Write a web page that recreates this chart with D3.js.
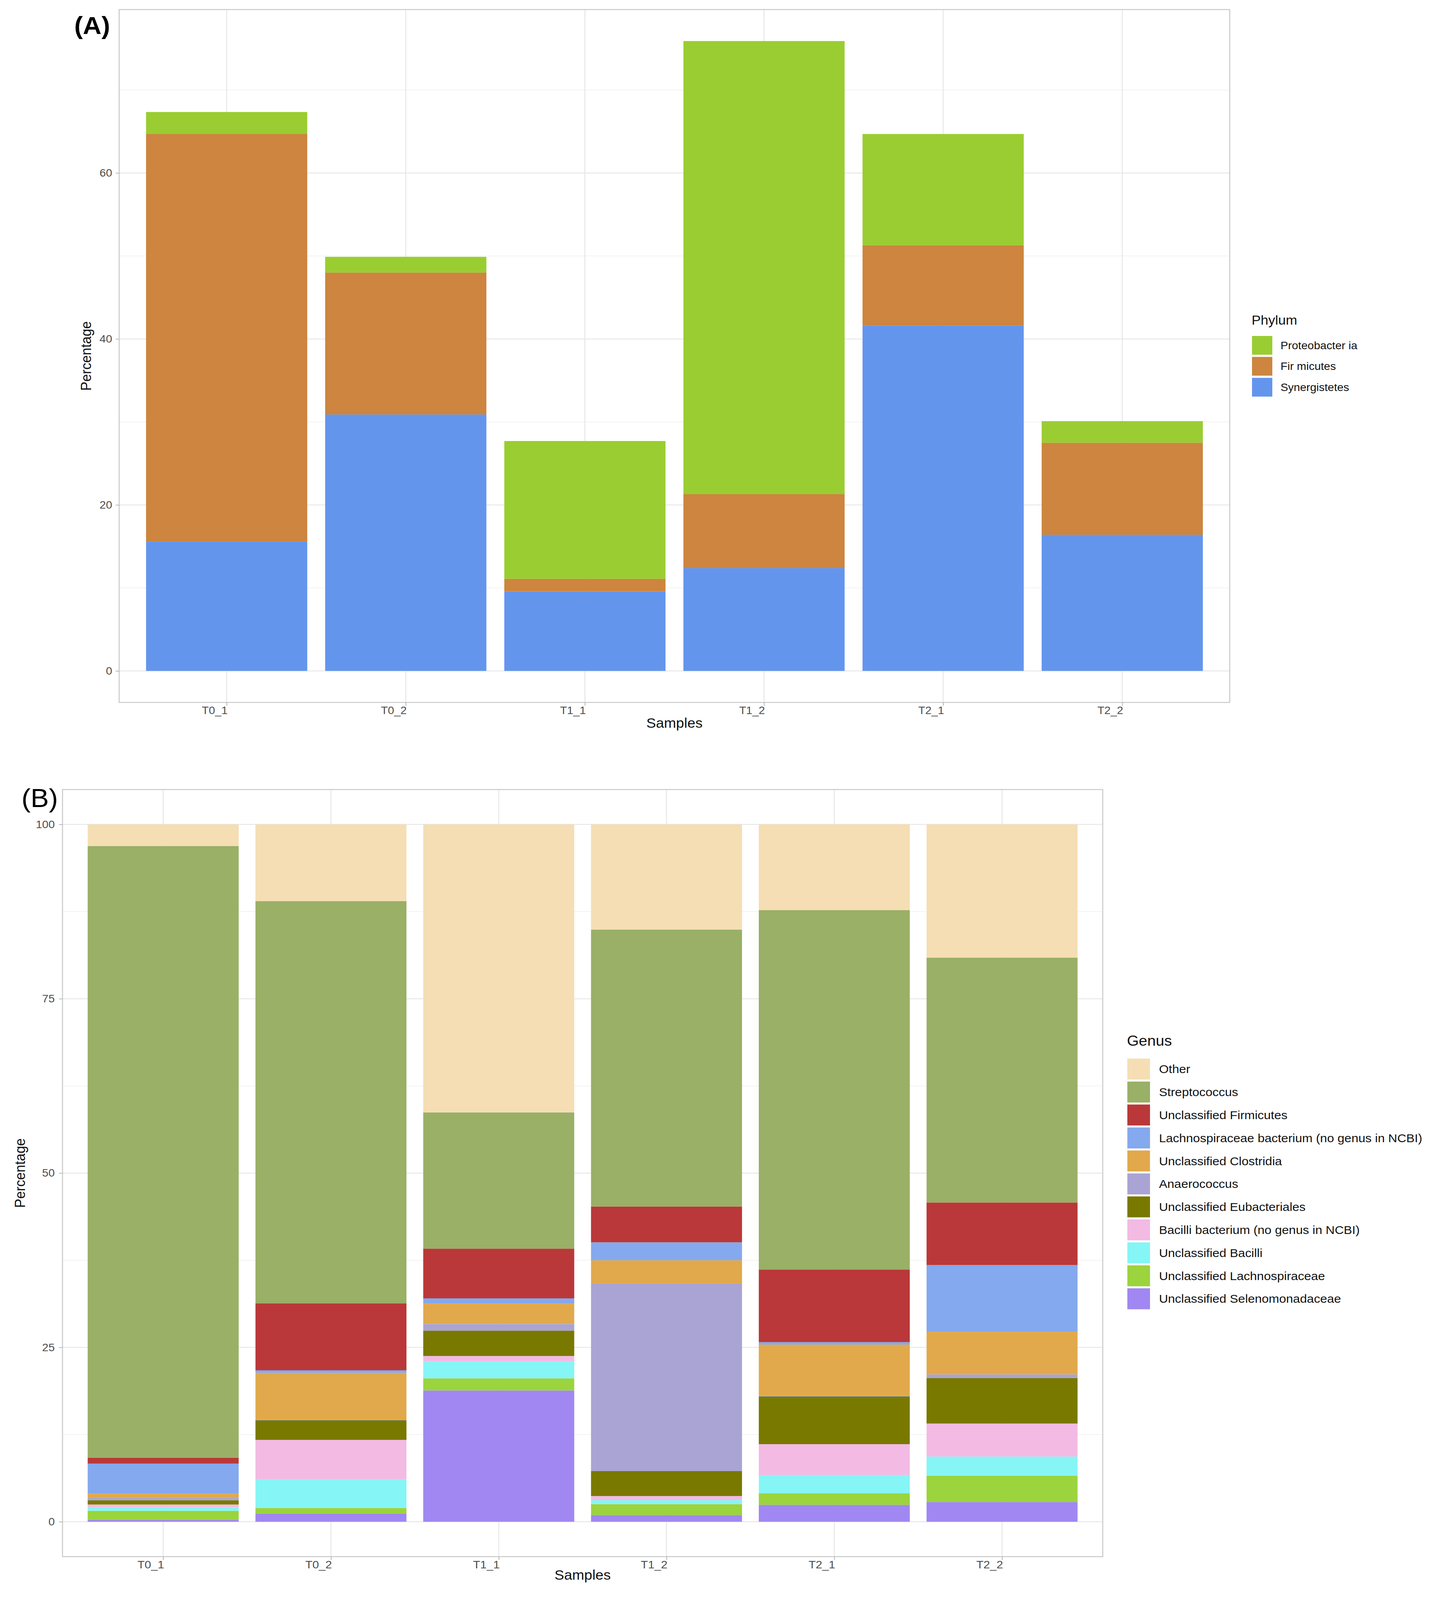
<!DOCTYPE html>
<html><head><meta charset="utf-8">
<script src="https://cdn.jsdelivr.net/npm/d3@7"></script>
<style>
html,body{margin:0;padding:0;background:#fff;overflow:hidden}
#chart{display:block;width:100vw;height:100vh}
text{font-family:"Liberation Sans",Arial,Helvetica,sans-serif}
</style>
</head><body>
<svg id="chart" viewBox="0 0 3680 4353" preserveAspectRatio="none"></svg>
<script>
// ---------- DATA ----------
const samples = ["T0_1","T0_2","T1_1","T1_2","T2_1","T2_2"];

// Panel A (phylum), stacked bottom -> top
const phylumKeys = ["Synergistetes","Fir micutes","Proteobacter ia"];
const phylumLegendOrder = ["Proteobacter ia","Fir micutes","Synergistetes"];
const synergistetes = [15.6, 30.9, 9.6, 12.4, 41.6, 16.4];
const firmicutesA   = [49.1, 17.1, 1.5, 8.9, 9.7, 11.1];
const proteobacteria= [2.65, 1.9, 16.6, 54.6, 13.4, 2.6];
const phylumColors = ["#6495ED","#CD853F","#9ACD32"];
const yTicksA = [0,20,40,60];
const yMinorA = [10,30,50,70];

// Panel B (genus), stacked bottom -> top
const genusKeys = ["Unclassified Selenomonadaceae","Unclassified Lachnospiraceae","Unclassified Bacilli",
  "Bacilli bacterium (no genus in NCBI)","Unclassified Eubacteriales","Anaerococcus","Unclassified Clostridia",
  "Lachnospiraceae bacterium (no genus in NCBI)","Unclassified Firmicutes","Streptococcus","Other"];
const selenomonadaceae = [0.27, 1.19, 18.83, 0.97, 2.43, 2.83];
const lachnospiraceae  = [1.30, 0.79, 1.73, 1.56, 1.64, 3.77];
const bacilli          = [0.51, 4.12, 2.46, 0.58, 2.64, 2.75];
const bacilliBact      = [0.39, 5.64, 0.75, 0.58, 4.42, 4.73];
const eubacteriales    = [0.61, 2.81, 3.64, 3.58, 6.84, 6.52];
const anaerococcus     = [0.33, 0.10, 0.95, 26.93, 0.10, 0.53];
const clostridia       = [0.62, 6.71, 2.92, 3.30, 7.34, 6.13];
const lachnoBact       = [4.31, 0.36, 0.75, 2.57, 0.35, 9.55];
const firmicutesB      = [0.84, 9.61, 7.14, 5.13, 10.40, 8.97];
const streptococcus    = [87.72, 57.67, 19.53, 39.70, 51.54, 35.12];
const other            = [3.10, 11.00, 41.30, 15.10, 12.30, 19.10];
const genusColors = ["#A187F2","#9BD43C","#86F5F5","#F3BAE4","#797900","#A9A4D4","#E1A94B","#84A9EE","#BA3839","#99B066","#F5DEB3"];
const yTicksB = [0,25,50,75,100];
const yMinorB = [12.5,37.5,62.5,87.5];

// ---------- DRAW ----------
const svg = d3.select("#chart");
svg.append("rect").attr("width",3680).attr("height",4353).attr("fill","#fff");

function drawPanel(o){
  const g = svg.append("g");
  const rows = samples.map((s,i)=>{const r={sample:s}; o.keys.forEach((k,j)=>r[k]=o.series[j][i]); return r;});
  const stacked = d3.stack().keys(o.keys)(rows);
  const maxV = d3.max(stacked[stacked.length-1], d=>d[1]);
  const x = d3.scalePoint().domain(samples).range([o.left,o.right]).padding(0.6);
  const y = d3.scaleLinear().domain([-0.05*maxV, 1.05*maxV]).range([o.bottom,o.top]);
  const bw = x.step()*0.9;
  const color = d3.scaleOrdinal().domain(o.keys).range(o.colors);

  // grid
  g.selectAll(".minor").data(o.minor).join("line")
    .attr("x1",o.left).attr("x2",o.right).attr("y1",d=>y(d)).attr("y2",d=>y(d))
    .attr("stroke","#efefef").attr("stroke-width",1.6);
  g.selectAll(".major").data(o.ticks).join("line")
    .attr("x1",o.left).attr("x2",o.right).attr("y1",d=>y(d)).attr("y2",d=>y(d))
    .attr("stroke","#e6e6e6").attr("stroke-width",2.4);
  g.selectAll(".vmajor").data(samples).join("line")
    .attr("x1",d=>x(d)).attr("x2",d=>x(d)).attr("y1",o.top).attr("y2",o.bottom)
    .attr("stroke","#e6e6e6").attr("stroke-width",2.4);

  // bars
  g.selectAll(".layer").data(stacked).join("g")
    .attr("fill",d=>color(d.key))
    .selectAll("rect").data(d=>d).join("rect")
    .attr("x",d=>x(d.data.sample)-bw/2).attr("width",bw)
    .attr("y",d=>y(d[1])).attr("height",d=>Math.max(0,y(d[0])-y(d[1])));

  // border
  g.append("rect").attr("x",o.left).attr("y",o.top).attr("width",o.right-o.left).attr("height",o.bottom-o.top)
    .attr("fill","none").attr("stroke","#c9c9c9").attr("stroke-width",2.6);

  // axes
  const ya = g.append("g").attr("transform",`translate(${o.left},0)`)
    .call(d3.axisLeft(y).tickValues(o.ticks).tickSize(9).tickPadding(o.yPad).tickFormat(d3.format("d")));
  const xa = g.append("g").attr("transform",`translate(0,${o.bottom})`)
    .call(d3.axisBottom(x).tickSize(9).tickPadding(2));
  [ya,xa].forEach(a=>{
    a.select(".domain").remove();
    a.selectAll(".tick line").attr("stroke","#b3b3b3").attr("stroke-width",2);
    a.selectAll(".tick text").attr("fill","#4d4d4d").style("font-size",o.tickFont+"px");
  });
  xa.selectAll(".tick text").attr("text-anchor","end").attr("x",2).style("font-size",o.xTickFont+"px");

  // titles
  g.append("text").attr("x",(o.left+o.right)/2).attr("y",o.xTitleY).attr("text-anchor","middle")
    .style("font-size","37px").attr("fill","#111").text("Samples");
  g.append("text").attr("transform",`translate(${o.yTitleX},${(o.top+o.bottom)/2}) rotate(-90)`)
    .attr("text-anchor","middle").attr("dy","0.35em").style("font-size","37px").attr("fill","#111").text("Percentage");
  return color;
}

const colA = drawPanel({left:305,right:3147,top:26,bottom:1911,keys:phylumKeys,
  series:[synergistetes,firmicutesA,proteobacteria],colors:phylumColors,ticks:yTicksA,minor:yMinorA,
  tickFont:29,xTickFont:29,yPad:9,xTitleY:1980,yTitleX:220});

const colB = drawPanel({left:160,right:2822,top:2148,bottom:4235,keys:genusKeys,
  series:[selenomonadaceae,lachnospiraceae,bacilli,bacilliBact,eubacteriales,anaerococcus,clostridia,lachnoBact,firmicutesB,streptococcus,other],
  colors:genusColors,ticks:yTicksB,minor:yMinorB,tickFont:29,xTickFont:30,yPad:11,xTitleY:4298,yTitleX:51});

// panel letters
svg.append("text").attr("x",190).attr("y",93).style("font-size","66px").style("font-weight","bold").attr("fill","#000").text("(A)");
svg.append("text").attr("x",55).attr("y",2196).style("font-size","70px").attr("fill","#000").text("(B)");

// legend A
const legA = svg.append("g");
legA.append("text").attr("x",3203).attr("y",883).style("font-size","35px").attr("fill","#111").text("Phylum");
const la = legA.selectAll(".item").data(phylumLegendOrder).join("g").attr("transform",(d,i)=>`translate(3204,${914+i*57})`);
la.append("rect").attr("width",52).attr("height",51).attr("fill",d=>colA(d));
la.append("text").attr("x",73).attr("y",25.5).attr("dy","0.35em").style("font-size","29px").attr("fill","#111").text(d=>d);

// legend B
const legB = svg.append("g");
legB.append("text").attr("x",2884).attr("y",2845).style("font-size","39px").attr("fill","#111").text("Genus");
const genusLegendOrder = genusKeys.slice().reverse();
const lb = legB.selectAll(".item").data(genusLegendOrder).join("g").attr("transform",(d,i)=>`translate(2885,${2880+i*62.5})`);
lb.append("rect").attr("width",58).attr("height",57).attr("fill",d=>colB(d));
lb.append("text").attr("x",81).attr("y",28.5).attr("dy","0.35em").style("font-size","32px").attr("fill","#111").text(d=>d);
</script>
</body></html>
